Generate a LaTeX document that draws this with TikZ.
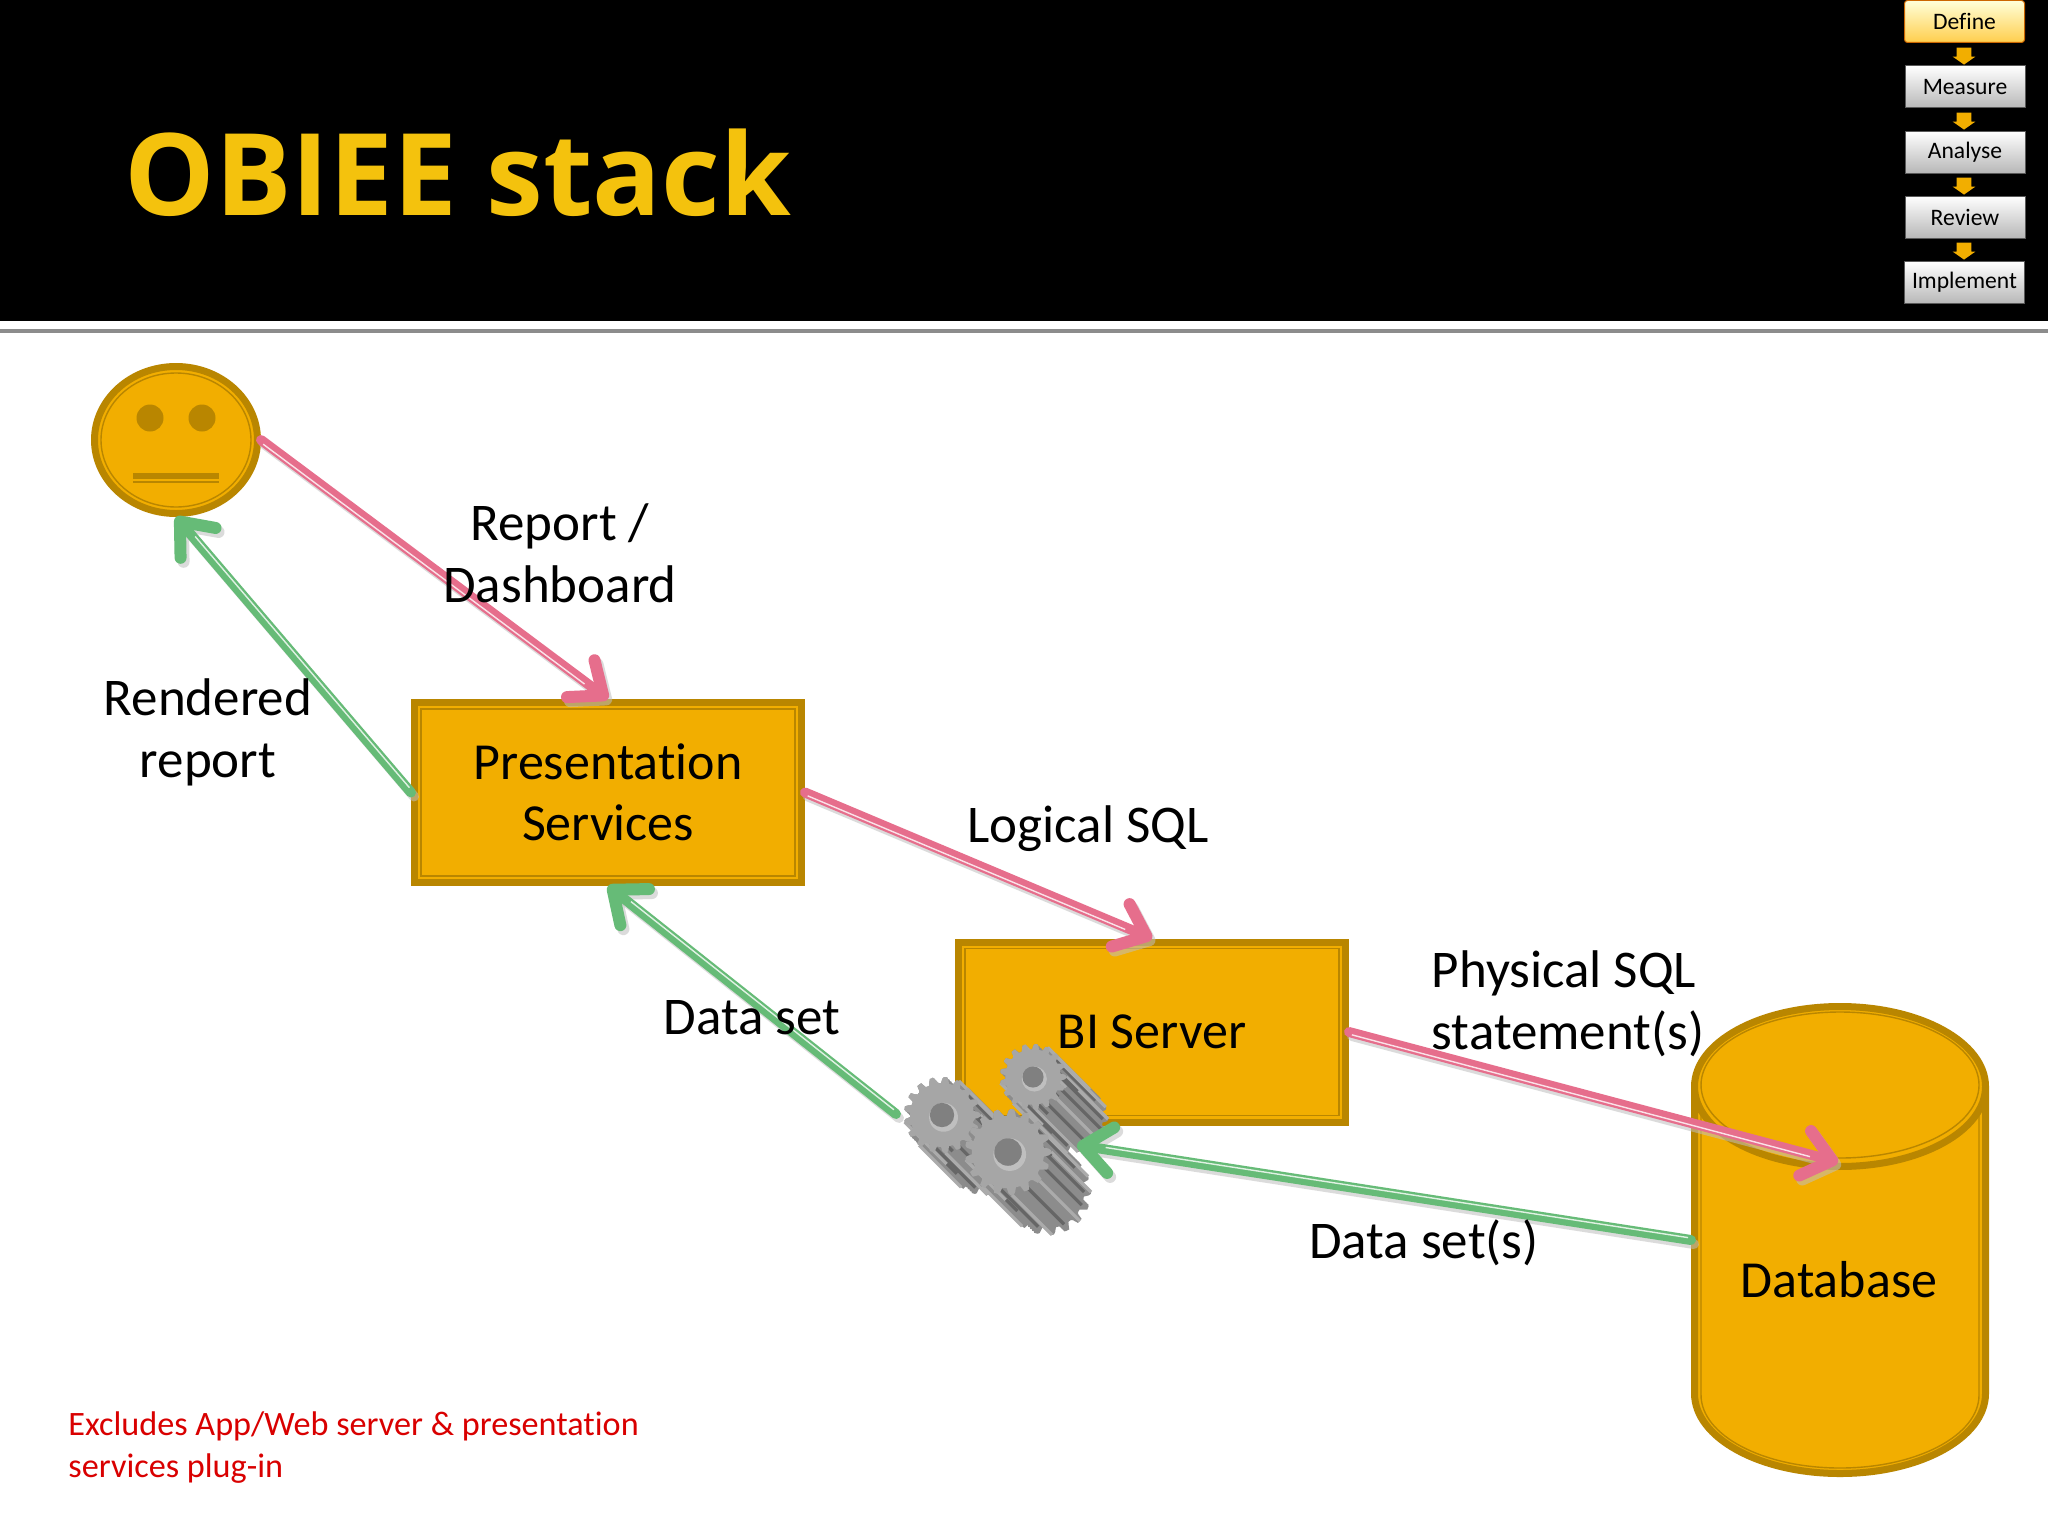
\documentclass[tikz,border=0pt]{standalone}
\usepackage{fontspec}
\setmainfont{Carlito}[Ligatures=NoCommon]
\newfontfamily\titlefont{Open Sans}
\usetikzlibrary{shapes,arrows.meta}
\usetikzlibrary{positioning,calc}
\definecolor{gold}{HTML}{F2AE00}
\definecolor{ochre}{HTML}{B98600}
\definecolor{titlegold}{HTML}{F4C20D}
\definecolor{rose}{HTML}{E66E8C}
\definecolor{leaf}{HTML}{66BB77}
\tikzstyle{block} = [rectangle, draw=ochre, fill=gold, line width=3.5pt, align=center,
    minimum width=193.5pt, minimum height=90pt, font=\fontsize{26}{30.5}\selectfont]
\tikzstyle{inset} = [draw=ochre, line width=.7pt]
\tikzstyle{db} = [draw=ochre, fill=gold, line width=3.5pt,
  shape=cylinder,
  aspect=12,
  minimum height=233.5pt,
  minimum width=145.5pt,
  shape border rotate=90
]
\tikzstyle{caption} = [align=center, font=\fontsize{26.5}{31}\selectfont]
\tikzstyle{stage} = [rectangle, draw=black!65, line width=.5pt, top color=white, bottom color=black!28,
    minimum width=60pt, minimum height=21pt, inner sep=0pt, font=\fontsize{11.8}{14}\selectfont]
\tikzstyle{current stage} = [stage, draw=orange!80!black, rounded corners=1.5pt,
    top color=yellow!15, bottom color=orange!55!yellow!70]
\tikzstyle{stagedown} = [single arrow, draw=none, fill=gold, shape border rotate=270, inner xsep=3.5pt, inner ysep=0pt,
    minimum height=8.5pt, single arrow head extend=2pt, single arrow tip angle=110]
\tikzstyle{line} = [draw, line width=5pt, line cap=round,
    -{Straight Barb[round, length=14pt, width=23pt, line width=6pt]}]
\newcommand{\flow}[4]{% colour, stripe shift, from, to
  \path [line, draw=black!25, opacity=.55, transform canvas={shift={(1.5pt,-2pt)}}] (#3) -- (#4);
  \path [line, draw=#1] (#3) -- (#4);
  \draw [draw=white, opacity=.8, line width=.7pt, shorten >=14pt, shorten <=2pt, transform canvas={shift={#2}}] (#3) -- (#4);
}
\newcommand{\gear}[4]{% x, y, radius, depth
  \begin{scope}[shift={(#1,#2)}]
    \foreach \s in {0,2,...,#4}
      \fill [black!45, shift={(\s,\s)}] plot [domain=0:360, samples=150]
        (\x:{#3*(.92+.08*max(min(2.5*cos(17*\x),1),-1))});
    \foreach \a in {0,42.35,...,360} {
      \draw [black!33, line width=1.6pt] (\a:#3) -- ++(#4,#4);
      \draw [black!60, line width=1.6pt] (\a+21.2:.84*#3) -- ++(#4,#4);
    }
    \fill [black!35] plot [domain=0:360, samples=150]
      (\x:{#3*(.92+.08*max(min(2.5*cos(17*\x),1),-1))});
    \fill [black!25] (.04*#3,.06*#3) circle [radius=.38*#3];
    \fill [black!50] (0,0) circle [radius=.32*#3];
  \end{scope}
}
\begin{document}
\begin{tikzpicture}[x=.5pt, y=-.5pt, node distance=25pt]
  \useasboundingbox (0,0) rectangle (2048,1536);
  % Place header
  \fill [white] (0,0) rectangle (2048,1536);
  \fill [black] (0,0) rectangle (2048,321);
  \fill [black!45] (0,329) rectangle (2048,333);
  \node [font=\fontsize{57}{70}\titlefont\selectfont\bfseries, text=titlegold, anchor=base west, inner sep=0pt] (title) at (124,215) {OBIEE stack};

  \node [current stage] (define) at (1964.5,21.5) {Define};
  \node [stage] (measure) at (1965,87) {Measure};
  \node [stage] (analyse) at (1965,152) {Analyse};
  \node [stage] (review) at (1965,217) {Review};
  \node [stage] (implement) at (1964.5,282.5) {Implement};
  \node [stagedown] (down1) at (1964,53.5) {};
  \node [stagedown] (down2) at (1964,118.5) {};
  \node [stagedown] (down3) at (1964,183.5) {};
  \node [stagedown] (down4) at (1964,248.5) {};

  % Place nodes
  \node [ellipse, draw=ochre, fill=gold, line width=3.5pt, minimum width=81.5pt, minimum height=73.5pt] (face) at (176,440) {};
  \draw [inset] (face.center) circle [x radius=75, y radius=67];
  \fill [ochre] (150,418) circle [radius=13.5];
  \fill [ochre] (202,418) circle [radius=13.5];
  \fill [ochre] (133,473) rectangle (219,479);
  \fill [ochre] (133,481) rectangle (219,483);

  \node [block] (pres) at (608,792.5) {Presentation\\Services};
  \draw [inset] ($(pres.north west)+(10,10)$) rectangle ($(pres.south east)+(-10,-10)$);
  \node [block] (bi) at (1152,1032) {BI Server};
  \draw [inset] ($(bi.north west)+(10,10)$) rectangle ($(bi.south east)+(-10,-10)$);

  \node [db, anchor=shape center] (base) at (1840,1240) {};
  \node [font=\fontsize{26}{30.5}\selectfont] (basename) at (1839,1280) {Database};
  \coordinate (basetop) at (1838,1162);
  \coordinate (baseside) at (base.shape center -| base.west);
  \draw [inset] (1840,1085) ellipse [x radius=139, y radius=73];
  \draw [inset] (1701,1112) -- (1701,1395) arc [start angle=180, end angle=0, x radius=139, y radius=73] -- (1979,1112);

  \coordinate (gearsleft) at (896,1114);
  \coordinate (gearsright) at (1077,1145);

  % Place connectors
  \flow{rose}{(-.5pt,-.9pt)}{face.east}{pres.north}
  \flow{leaf}{(.5pt,.9pt)}{pres.west}{face.south}
  \flow{rose}{(-.5pt,-.9pt)}{pres.east}{bi.north}
  \flow{leaf}{(.5pt,.9pt)}{gearsleft}{pres.south}
  \flow{rose}{(-.5pt,-.9pt)}{bi.east}{basetop}

  \gear{1033}{1077}{33}{42}
  \gear{942}{1115}{38}{42}
  \gear{1008}{1152}{43}{40}

  \flow{leaf}{(.5pt,.9pt)}{baseside}{gearsright}

  % Place labels
  \node [caption] (report) at (560,553) {Report /\\Dashboard};
  \node [caption] (rendered) at (208,732) {Rendered\\report};
  \node [caption] (logical) at (1088,829) {Logical SQL};
  \node [caption, align=left] (physical) at (1568,1004) {Physical SQL\\statement(s)};
  \node [caption] (dataset) at (752,1018) {Data set};
  \node [caption] (datasets) at (1424,1243) {Data set(s)};
  \node [align=left, text=red!85!black, anchor=north west, inner sep=0pt, font=\fontsize{17.1}{21}\selectfont] (note) at (68,1411)
    {Excludes App/Web server \& presentation\\services plug-in};
\end{tikzpicture}
\end{document}
